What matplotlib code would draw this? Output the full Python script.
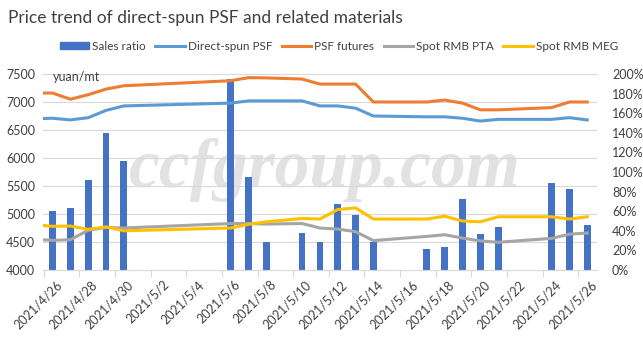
import numpy as np
import pandas as pd
import matplotlib
matplotlib.use("Agg")
import matplotlib.pyplot as plt
import matplotlib.dates as mdates
from matplotlib.patches import Patch
from matplotlib.lines import Line2D
from matplotlib.transforms import ScaledTranslation

plt.rcParams['font.family'] = ['Lato', 'DejaVu Sans']

# trading days (4/25 and 5/8 were make-up working days)
dates = ["2021-04-25", "2021-04-26", "2021-04-27", "2021-04-28", "2021-04-29", "2021-04-30",
         "2021-05-06", "2021-05-07", "2021-05-08", "2021-05-10", "2021-05-11", "2021-05-12",
         "2021-05-13", "2021-05-14", "2021-05-17", "2021-05-18", "2021-05-19", "2021-05-20",
         "2021-05-21", "2021-05-24", "2021-05-25", "2021-05-26"]

sales_ratio = [np.nan, 60, 63, 92, 140, 111,
               195, 95, 28.6, 38, 28.6, 67,
               56, 28.6, 21, 23.5, 72, 36.7,
               44, 89, 83, 46]
direct_spun = [6700, 6710, 6680, 6720, 6850, 6930,
               6980, 7020, 7020, 7020, 6930, 6930,
               6890, 6750, 6735, 6735, 6710, 6660,
               6690, 6690, 6720, 6680]
psf_futures = [7160, 7160, 7050, 7130, 7230, 7290,
               7380, 7435, 7430, 7410, 7320, 7320,
               7320, 7000, 7000, 7035, 6980, 6860,
               6860, 6900, 7000, 7000]
spot_pta = [4548, 4530, 4540, 4710, 4760, 4750,
            4830, 4830, 4820, 4830, 4750, 4730,
            4685, 4525, 4600, 4630, 4570, 4520,
            4495, 4565, 4640, 4660]
spot_meg = [4810, 4780, 4785, 4725, 4770, 4700,
            4750, 4815, 4860, 4920, 4910, 5080,
            5110, 4910, 4910, 4960, 4875, 4860,
            4950, 4950, 4910, 4950]

left_ticks = [4000, 4500, 5000, 5500, 6000, 6500, 7000, 7500]
right_ticks = [0, 20, 40, 60, 80, 100, 120, 140, 160, 180, 200]
tick_dates = pd.date_range("2021-04-26", "2021-05-26", freq="2D")

x = mdates.date2num(pd.to_datetime(dates))
xt = mdates.date2num(tick_dates)

fig = plt.figure(figsize=(6.43, 3.41), dpi=100)
ax = fig.add_axes([0.0673, 0.2082, 0.8607, 0.5748])
ax2 = ax.twinx()
ax.set_zorder(2)
ax2.set_zorder(1)
ax.patch.set_visible(False)
ax2.patch.set_visible(False)

fig.text(0.505, 0.50, "ccfgroup.com", fontsize=50, family="Liberation Serif",
         style="italic", weight="bold", color="#e2e2e2", ha="center", va="center", zorder=0)

# bars on the right (percent) axis, behind the lines
for v in left_ticks:
    ax2.axhline((v - 4000) / 3500 * 200, color="#d9d9d9", lw=0.8, zorder=0)
ax2.bar(x, sales_ratio, width=0.38, color="#4472c4", zorder=2)
ax2.set_ylim(0, 200)
ax2.set_yticks(right_ticks)
ax2.set_yticklabels([f"{t}%" for t in right_ticks])

ax.plot(x, direct_spun, color="#5b9bd5", lw=2.2)
ax.plot(x, psf_futures, color="#ed7d31", lw=2.2)
ax.plot(x, spot_pta, color="#a5a5a5", lw=2.2)
ax.plot(x, spot_meg, color="#ffc000", lw=2.2)
ax.set_ylim(4000, 7500)
ax.set_yticks(left_ticks)
ax.set_xlim(x[1] - 0.52, x[-1] + 0.53)
ax.set_xticks(xt - 0.5)
ax.set_xticklabels([f"{d.year}/{d.month}/{d.day}" for d in tick_dates])

for a in (ax, ax2):
    for s in a.spines.values():
        s.set_visible(False)
    a.tick_params(axis="y", length=0, labelsize=9, colors="#404040", pad=6)
ax.spines["bottom"].set_visible(True)
ax.spines["bottom"].set_color("#d9d9d9")
ax.tick_params(axis="x", length=5, color="#d9d9d9", labelsize=9, labelcolor="#404040", pad=1)
ax2.tick_params(axis="y", pad=11)
for lab in ax.get_xticklabels():
    lab.set_rotation(45)
    lab.set_ha("right")
    lab.set_rotation_mode("anchor")
    lab.set_transform(lab.get_transform() + ScaledTranslation(0.12, 0, fig.dpi_scale_trans))

ax.text(0.0175, 0.985, "yuan/mt", transform=ax.transAxes, fontsize=9, color="#404040", va="center")

fig.text(0.012, 0.948, "Price trend of direct-spun PSF and related materials",
         fontsize=12.5, color="#404040", va="center")

handles = [Patch(color="#4472c4"),
           Line2D([], [], color="#5b9bd5", lw=2.2),
           Line2D([], [], color="#ed7d31", lw=2.2),
           Line2D([], [], color="#a5a5a5", lw=2.2),
           Line2D([], [], color="#ffc000", lw=2.2)]
labels = ["Sales ratio", "Direct-spun PSF", "PSF futures", "Spot RMB PTA", "Spot RMB MEG"]
fig.legend(handles, labels, loc="center", bbox_to_anchor=(0.527, 0.865), ncol=5, frameon=False,
           fontsize=8.5, handlelength=2.5, handleheight=0.6, handletextpad=0.25, columnspacing=0.8,
           labelcolor="#404040")

fig.savefig("out.png", dpi=100)
